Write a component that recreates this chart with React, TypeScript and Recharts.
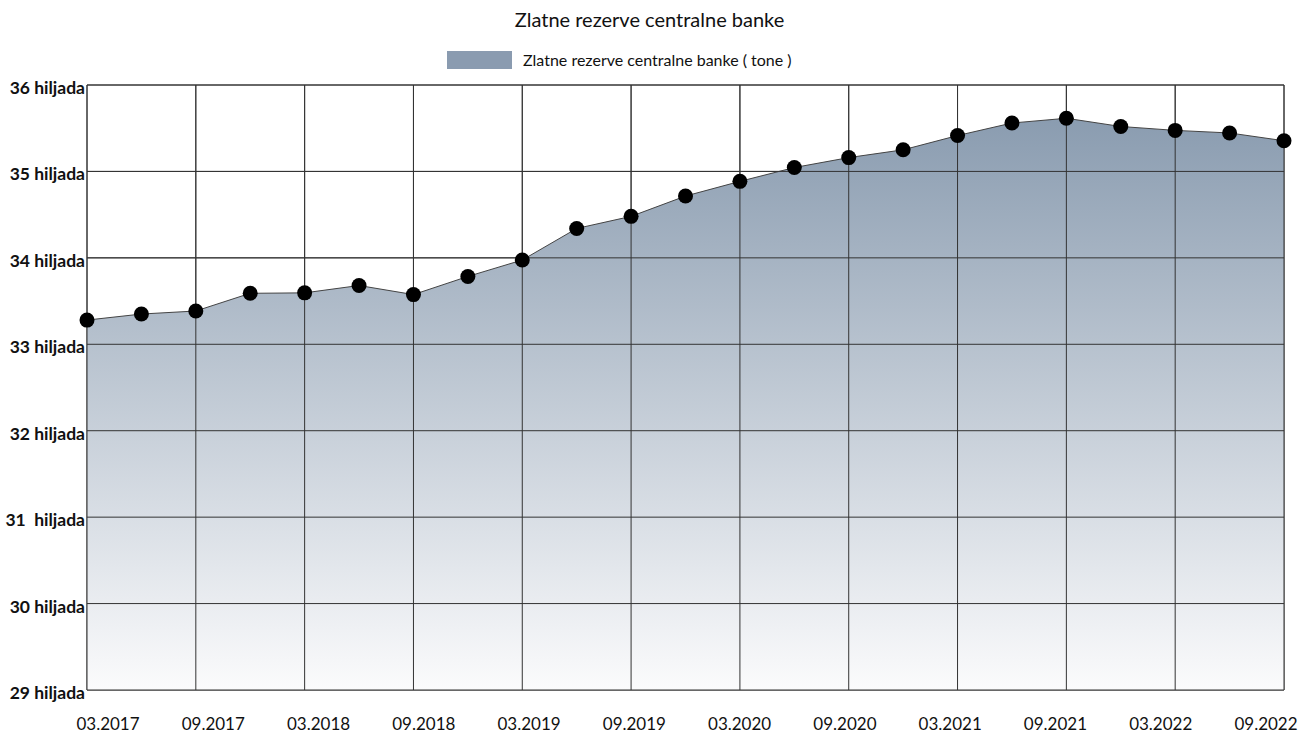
import { AreaChart, Area, XAxis, YAxis, CartesianGrid, ReferenceLine } from 'recharts';

// quarterly readings, 03.2017 .. 09.2022
const quarters = [
  '03.2017', '06.2017', '09.2017', '12.2017',
  '03.2018', '06.2018', '09.2018', '12.2018',
  '03.2019', '06.2019', '09.2019', '12.2019',
  '03.2020', '06.2020', '09.2020', '12.2020',
  '03.2021', '06.2021', '09.2021', '12.2021',
  '03.2022', '06.2022', '09.2022',
];

const tonnes = [
  33280, 33350, 33385, 33590,
  33595, 33680, 33575, 33785,
  33975, 34340, 34480, 34715,
  34885, 35045, 35160, 35250,
  35415, 35560, 35615, 35520,
  35475, 35445, 35355,
];

const yTicks = [29000, 30000, 31000, 32000, 33000, 34000, 35000, 36000];
const yLabels = ['29 hiljada', '30 hiljada', '31  hiljada', '32 hiljada', '33 hiljada', '34 hiljada', '35 hiljada', '36 hiljada'];

const xTicks = [0, 2, 4, 6, 8, 10, 12, 14, 16, 18, 20, 22];

const title = 'Zlatne rezerve centralne banke';
const seriesName = 'Zlatne rezerve centralne banke ( tone )';

const data = quarters.map((q, i) => ({ i, quarter: q, value: tonnes[i] }));

const FONT = 'Lato, "Liberation Sans", sans-serif';
const PLOT_LEFT = 87;
const PLOT_W = 1197;

function YTick(props: any) {
  const { x, y, payload } = props;
  const idx = yTicks.indexOf(payload.value);
  return (
    <text
      x={x}
      y={y}
      dy={9}
      textAnchor="end"
      fontFamily={FONT}
      fontSize={17.5}
      fontWeight={700}
      fill="#111"
      style={{ whiteSpace: 'pre' }}
    >
      {yLabels[idx]}
    </text>
  );
}

// the source spreads its date labels a little tighter than the grid
function XTick(props: any) {
  const { x, y, payload } = props;
  const frac = (x - PLOT_LEFT) / PLOT_W;
  const shifted = x + 21 - 39 * frac;
  return (
    <text x={shifted} y={y} dy={14} textAnchor="middle" fontFamily={FONT} fontSize={17} fill="#111">
      {quarters[payload.value]}
    </text>
  );
}

export default function App() {
  return (
    <div style={{ position: 'absolute', left: 0, top: 0, width: 1299, height: 733, background: '#fff', fontFamily: FONT }}>
      <div style={{ position: 'absolute', top: 7, left: 0, width: 1299, textAlign: 'center', fontSize: 20, color: '#111' }}>
        {title}
      </div>
      <div style={{ position: 'absolute', top: 50, left: 447, display: 'flex', alignItems: 'center' }}>
        <div style={{ width: 65, height: 18, background: '#8a9bb0' }} />
        <span style={{ marginLeft: 11, fontSize: 16, color: '#111' }}>{seriesName}</span>
      </div>
      <AreaChart
        width={1299}
        height={733}
        data={data}
        margin={{ top: 85, right: 15, bottom: 13, left: 0 }}
      >
        <defs>
          <linearGradient id="goldFill" x1="0" y1="0" x2="0" y2="1">
            <stop offset="0%" stopColor="#8a9cb0" />
            <stop offset="100%" stopColor="#fbfbfc" />
          </linearGradient>
        </defs>
        <CartesianGrid stroke="#3a3a3a" strokeWidth={1} />
        <XAxis
          dataKey="i"
          type="number"
          domain={[0, 22]}
          ticks={xTicks}
          axisLine={false}
          tickLine={false}
          tickSize={0}
          tickMargin={26}
          height={30}
          tick={<XTick />}
        />
        <YAxis
          type="number"
          domain={[29000, 36000]}
          ticks={yTicks}
          width={87}
          axisLine={false}
          tickLine={false}
          tickSize={0}
          tickMargin={2}
          tick={<YTick />}
        />
        <Area
          type="linear"
          dataKey="value"
          baseValue={29000}
          stroke="#444"
          strokeWidth={1}
          fill="url(#goldFill)"
          fillOpacity={1}
          dot={false}
          activeDot={false}
          isAnimationActive={false}
        />
        {yTicks.map((v) => (
          <ReferenceLine key={'h' + v} y={v} stroke="#333" strokeWidth={1} />
        ))}
        {xTicks.map((v) => (
          <ReferenceLine key={'v' + v} x={v} stroke="#333" strokeWidth={1} />
        ))}
        <Area
          type="linear"
          dataKey="value"
          baseValue={29000}
          stroke="none"
          fill="none"
          fillOpacity={1}
          dot={{ r: 7.5, fill: '#000', fillOpacity: 1, stroke: '#000', strokeWidth: 0 }}
          activeDot={false}
          isAnimationActive={false}
        />
      </AreaChart>
    </div>
  );
}
